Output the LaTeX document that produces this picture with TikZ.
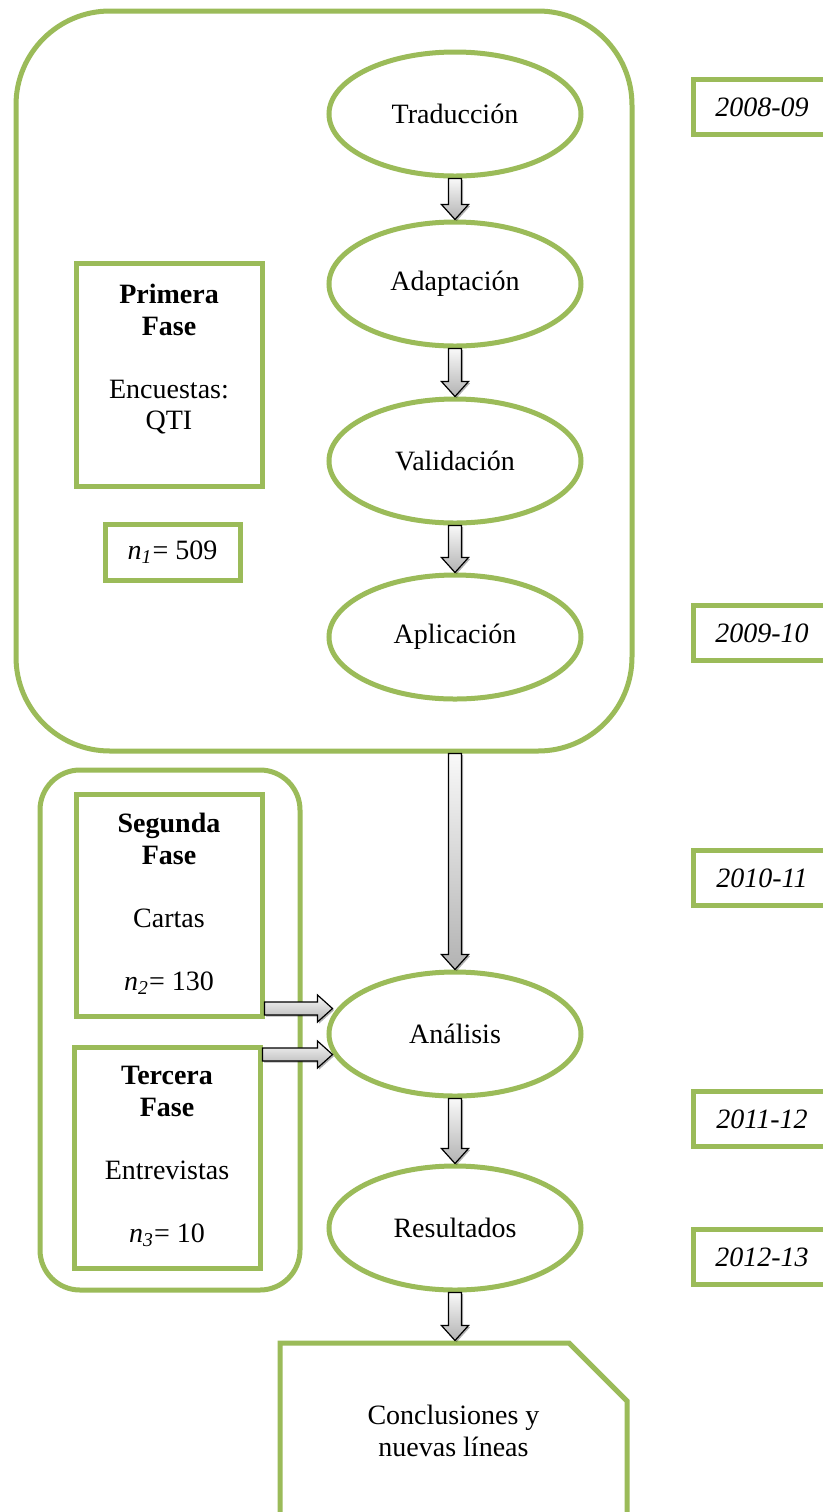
\documentclass[tikz,border=0pt]{standalone}
\usepackage{fontspec}
\setmainfont{Liberation Serif}
\usetikzlibrary{calc, shapes.geometric, shapes.misc, shadows}
\definecolor{phaseGreen}{HTML}{9BBB59}

\newcommand{\blockdown}[2]{%
  \filldraw[blockarrow] let \p1=(#1), \p2=(#2) in
    (\x1-3.25pt,\y1) -- (\x1-3.25pt,\y2+7.5pt) -- (\x1-6.75pt,\y2+7.5pt) -- (\x1,\y2)
    -- (\x1+6.75pt,\y2+7.5pt) -- (\x1+3.25pt,\y2+7.5pt) -- (\x1+3.25pt,\y1) -- cycle;}
\newcommand{\blockright}[2]{%
  \filldraw[blockarrow] let \p1=(#1), \p2=(#2) in
    (\x1,\y1+3.25pt) -- (\x2-7.5pt,\y1+3.25pt) -- (\x2-7.5pt,\y1+6.75pt) -- (\x2,\y1)
    -- (\x2-7.5pt,\y1-6.75pt) -- (\x2-7.5pt,\y1-3.25pt) -- (\x1,\y1-3.25pt) -- cycle;}

\begin{document}
\begin{tikzpicture}[x=0.5pt, y=-0.5pt,
    txt/.style={font=\fontsize{14}{15.75}\selectfont, align=center},
    frame/.style={draw=phaseGreen, line width=2.5pt, fill=white},
    oval/.style={frame, txt, ellipse, minimum width=126pt, minimum height=62pt, inner sep=0pt},
    yearbox/.style={frame, txt, font=\fontsize{14}{15.75}\selectfont\itshape,
        minimum width=69pt, minimum height=27.5pt},
    boxtext/.style={txt, anchor=north, inner sep=0pt},
    blockarrow/.style={draw=black, line width=0.6pt, top color=gray!5, bottom color=gray!60,
        drop shadow={shadow xshift=0.8pt, shadow yshift=-0.8pt, fill=black, opacity=0.3}}]
    \useasboundingbox (0,0) rectangle (823,1512);
    \fill[white] (0,0) rectangle (823,1512);
    \clip (0,0) rectangle (823,1512);

    % frames
    \node[frame, rounded corners=47pt, minimum width=308pt, minimum height=370pt] (fase1) at (324,381) {};
    \node[frame, rounded corners=20pt, minimum width=130pt, minimum height=260pt] (fase23) at (170,1030) {};

    % left boxes
    \node[frame, minimum width=93pt, minimum height=111.5pt] (primera) at (169,374.5) {};
    \node[boxtext] at (169,284) {\textbf{Primera}\\\textbf{Fase}\\[15.75pt]Encuestas:\\QTI};
    \node[frame, txt, minimum width=67.5pt, minimum height=28pt] (n1) at (172.5,552) {{\itshape n\textsubscript{1}}= 509};

    \node[frame, minimum width=93pt, minimum height=111pt] (segunda) at (169,905) {};
    \node[boxtext] at (169,813) {\textbf{Segunda}\\\textbf{Fase}\\[15.75pt]Cartas\\[15.75pt]{\itshape n\textsubscript{2}}= 130};
    \node[frame, minimum width=93pt, minimum height=110.5pt] (tercera) at (167,1157.5) {};
    \node[boxtext] at (167,1066) {\textbf{Tercera}\\\textbf{Fase}\\[15.75pt]Entrevistas\\[15.75pt]{\itshape n\textsubscript{3}}= 10};

    % process
    \node[oval] (trad) at (455,114) {Traducción};
    \node[oval] (adap) at (455,284) {Adaptación};
    \node[oval] (vali) at (455,461) {Validación};
    \node[oval] (apli) at (455,637) {Aplicación};
    \node[oval] (anal) at (455,1034) {Análisis};
    \node[oval] (resu) at (455,1228) {Resultados};
    \node[frame, txt, chamfered rectangle, chamfered rectangle corners=north east,
        chamfered rectangle xsep=14.5pt, chamfered rectangle ysep=14.5pt,
        minimum width=173.5pt, minimum height=88pt] (concl) at (453.5,1431) {Conclusiones y\\nuevas líneas};

    % years
    \node[yearbox] (y1) at (762,107) {2008-09};
    \node[yearbox] (y2) at (762,633) {2009-10};
    \node[yearbox] (y3) at (762,878) {2010-11};
    \node[yearbox] (y4) at (762,1119) {2011-12};
    \node[yearbox] (y5) at (762,1257) {2012-13};

    % arrows
    \blockdown{trad.south}{adap.north}
    \blockdown{adap.south}{vali.north}
    \blockdown{vali.south}{apli.north}
    \blockdown{fase1.south -| anal.north}{anal.north}
    \blockdown{anal.south}{resu.north}
    \blockdown{resu.south}{concl.north}
    \blockright{$(segunda.south east)+(0,5pt)$}{$(anal.west |- segunda.south east)+(3pt,5pt)$}
    \blockright{$(tercera.north east)+(0,-5pt)$}{$(anal.west |- tercera.north east)+(3pt,-5pt)$}
\end{tikzpicture}
\end{document}
